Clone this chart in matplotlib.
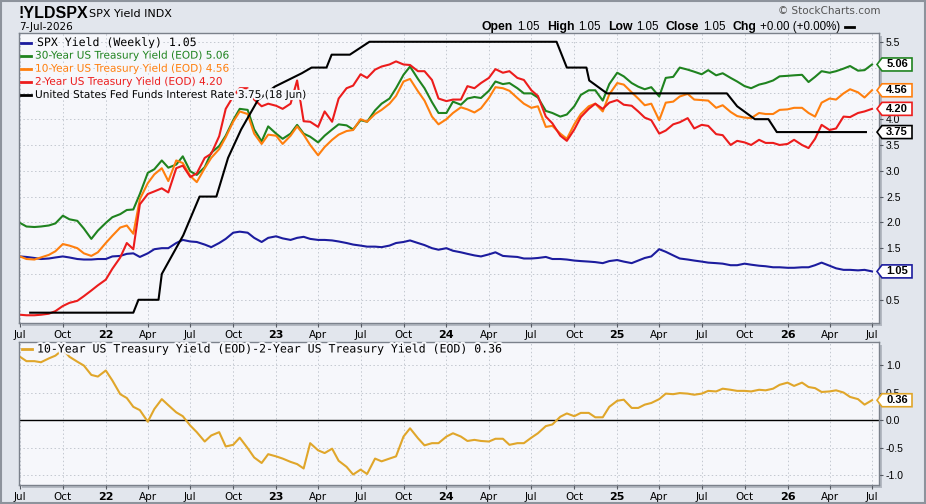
import matplotlib
matplotlib.use("Agg")
import matplotlib.pyplot as plt
import matplotlib.patheffects as pe
from matplotlib.patches import Polygon, Rectangle
from matplotlib.lines import Line2D
import pandas as pd

# ---------------- data ----------------
dates = pd.date_range("2021-07-01", periods=121, freq="SMS")

spx_yield = [1.34,1.33,1.31,1.29,1.30,1.32,1.34,1.32,1.29,1.28,
             1.28,1.29,1.29,1.34,1.35,1.39,1.40,1.33,1.40,1.48,
             1.50,1.50,1.60,1.66,1.63,1.62,1.57,1.52,1.60,1.68,
             1.80,1.82,1.80,1.70,1.62,1.70,1.73,1.69,1.66,1.70,
             1.72,1.68,1.66,1.66,1.65,1.63,1.60,1.57,1.55,1.53,
             1.53,1.52,1.55,1.60,1.62,1.65,1.60,1.56,1.50,1.47,
             1.50,1.45,1.42,1.39,1.36,1.34,1.38,1.42,1.35,1.34,
             1.33,1.30,1.30,1.31,1.33,1.29,1.29,1.28,1.26,1.25,
             1.24,1.23,1.21,1.25,1.27,1.24,1.21,1.26,1.31,1.34,
             1.48,1.43,1.36,1.30,1.28,1.26,1.24,1.22,1.21,1.20,
             1.17,1.17,1.20,1.18,1.16,1.15,1.13,1.13,1.12,1.12,
             1.13,1.13,1.17,1.22,1.16,1.11,1.08,1.08,1.07,1.08,
             1.05]

ust30 = [1.99,1.92,1.91,1.92,1.94,1.98,2.13,2.06,2.03,1.88,
         1.68,1.84,1.99,2.10,2.16,2.24,2.25,2.55,2.96,3.03,
         3.20,3.06,3.12,3.28,2.99,2.92,3.07,3.35,3.48,3.68,
         3.98,4.20,4.18,3.80,3.57,3.86,3.72,3.62,3.72,3.89,
         3.72,3.66,3.55,3.68,3.80,3.90,3.88,3.80,3.98,3.95,
         4.17,4.30,4.40,4.60,4.86,5.02,4.78,4.60,4.33,4.12,
         4.12,4.34,4.28,4.40,4.43,4.41,4.55,4.73,4.68,4.70,
         4.60,4.50,4.50,4.42,4.16,4.12,4.05,4.09,4.25,4.47,
         4.56,4.56,4.36,4.68,4.90,4.83,4.70,4.63,4.58,4.62,
         4.44,4.80,4.82,5.00,4.96,4.92,4.87,4.95,4.85,4.89,
         4.80,4.73,4.64,4.60,4.67,4.70,4.75,4.83,4.84,4.85,
         4.86,4.72,4.82,4.93,4.90,4.93,4.98,5.03,4.94,4.95,
         5.06]

ust10 = [1.34,1.29,1.28,1.32,1.37,1.44,1.58,1.55,1.50,1.40,
         1.35,1.42,1.60,1.74,1.90,1.94,1.78,2.45,2.76,2.93,
         3.05,2.80,3.20,3.15,2.90,2.78,3.05,3.25,3.42,3.65,
         3.95,4.15,4.10,3.72,3.52,3.70,3.68,3.52,3.68,3.86,
         3.70,3.50,3.30,3.46,3.60,3.70,3.77,3.79,4.00,3.95,
         4.10,4.18,4.30,4.45,4.73,4.78,4.54,4.36,4.05,3.90,
         4.00,4.12,4.23,4.19,4.13,4.21,4.41,4.62,4.60,4.55,
         4.41,4.30,4.22,4.25,3.85,3.87,3.72,3.62,3.90,4.10,
         4.25,4.30,4.15,4.48,4.70,4.67,4.52,4.40,4.27,4.30,
         3.98,4.32,4.34,4.44,4.49,4.38,4.37,4.36,4.22,4.27,
         4.14,4.06,4.03,4.02,4.12,4.10,4.10,4.18,4.19,4.22,
         4.22,4.12,4.05,4.32,4.40,4.38,4.50,4.58,4.52,4.42,
         4.56]

ust2 = [0.21,0.20,0.20,0.21,0.23,0.28,0.38,0.44,0.48,0.57,
        0.68,0.78,0.89,1.10,1.32,1.60,1.48,2.35,2.55,2.60,
        2.66,2.58,3.05,3.10,2.88,2.95,3.25,3.33,3.67,4.20,
        4.44,4.60,4.60,4.38,4.25,4.30,4.26,4.20,4.30,4.75,
        3.96,3.95,3.85,4.15,3.95,4.40,4.60,4.65,4.87,4.80,
        4.96,5.02,5.06,5.12,5.06,5.05,4.93,4.93,4.76,4.40,
        4.35,4.38,4.38,4.64,4.60,4.70,4.80,4.97,4.90,4.93,
        4.80,4.76,4.56,4.45,4.05,3.92,3.68,3.58,3.80,4.04,
        4.20,4.30,4.20,4.32,4.37,4.28,4.26,4.15,4.03,3.98,
        3.72,3.78,3.90,3.94,4.02,3.82,3.89,3.87,3.71,3.69,
        3.50,3.58,3.55,3.50,3.60,3.54,3.54,3.50,3.52,3.60,
        3.50,3.44,3.62,3.89,3.79,3.82,4.05,4.04,4.12,4.15,
        4.20]

spread_10_2 = [1.15,1.07,1.07,1.05,1.12,1.17,1.28,1.15,1.06,0.99,
               0.82,0.79,0.90,0.72,0.47,0.40,0.24,0.18,-0.03,0.20,
               0.38,0.27,0.14,0.07,-0.10,-0.22,-0.39,-0.28,-0.22,-0.48,
               -0.45,-0.32,-0.51,-0.68,-0.78,-0.62,-0.66,-0.70,-0.76,-0.80,
               -0.88,-0.42,-0.55,-0.60,-0.52,-0.74,-0.85,-0.99,-0.90,-0.98,
               -0.70,-0.75,-0.70,-0.66,-0.30,-0.15,-0.33,-0.46,-0.42,-0.42,
               -0.30,-0.24,-0.30,-0.38,-0.36,-0.38,-0.39,-0.34,-0.34,-0.45,
               -0.42,-0.42,-0.32,-0.24,-0.11,-0.08,0.06,0.12,0.07,0.13,
               0.13,0.05,0.05,0.24,0.35,0.37,0.22,0.22,0.28,0.31,
               0.38,0.48,0.47,0.49,0.48,0.46,0.48,0.53,0.52,0.57,
               0.55,0.53,0.53,0.52,0.55,0.54,0.57,0.64,0.68,0.62,
               0.68,0.60,0.58,0.51,0.52,0.54,0.50,0.42,0.38,0.28,
               0.36]

fed_dates = ["2021-07-23","2022-03-01","2022-03-12","2022-04-24","2022-05-01",
             "2022-06-16","2022-07-21","2022-08-26","2022-09-20","2022-10-18",
             "2022-11-23","2022-12-29","2023-02-25","2023-03-18","2023-04-19",
             "2023-04-30","2023-06-08","2023-07-20","2024-08-24","2024-09-15",
             "2024-10-27","2024-11-02","2024-12-10","2025-08-24","2025-09-15",
             "2025-10-23","2025-11-21","2025-12-09","2026-06-18"]
fed_rate = [0.25,0.25,0.50,0.50,1.00,1.75,2.50,2.50,3.25,3.80,
            4.37,4.63,4.89,5.00,5.00,5.25,5.25,5.50,5.50,5.00,
            5.00,4.75,4.50,4.50,4.25,4.00,4.00,3.75,3.75]

tick_dates = pd.date_range("2021-07-01", "2026-07-01", freq="QS-JAN")
tick_labels = ["Jul","Oct","22","Apr","Jul","Oct","23","Apr","Jul","Oct","24",
               "Apr","Jul","Oct","25","Apr","Jul","Oct","26","Apr","Jul"]
main_yticks = [0.5,1.0,1.5,2.0,2.5,3.0,3.5,4.0,4.5,5.0,5.5]
main_hidden = [1.0, 4.5, 5.0]          # labels covered by the value tags
low_yticks = [-1.0,-0.5,0.0,0.5,1.0]

legend_main = ["SPX Yield (Weekly) 1.05",
               "30-Year US Treasury Yield (EOD) 5.06",
               "10-Year US Treasury Yield (EOD) 4.56",
               "2-Year US Treasury Yield (EOD) 4.20",
               "United States Fed Funds Interest Rate 3.75 (18 Jun)"]
legend_low = "10-Year US Treasury Yield (EOD)-2-Year US Treasury Yield (EOD) 0.36"

# ---------------- style ----------------
C_BLUE, C_GREEN, C_ORANGE, C_RED, C_BLACK = "#1c1c9e", "#1f831f", "#ff7f0e", "#ec1c1c", "#000000"
C_GOLD = "#e0a62a"
BG = "#e2e6ed"
PANEL = "#f6f7fb"
W, H = 926, 504

fig = plt.figure(figsize=(W / 100, H / 100), dpi=100)
fig.patch.set_facecolor(BG)

def fx(px):
    return px / W

def fy(py):
    return 1 - py / H

L, R = 19, 879
main_top, main_bot = 33, 323
low_top, low_bot = 342, 485

# shadows
for top, bot in ((main_top, main_bot), (low_top, low_bot)):
    fig.add_artist(Rectangle((fx(L + 3), fy(bot + 3)), fx(R - L), (bot - top) / H,
                             transform=fig.transFigure, facecolor="#b4b9c2",
                             edgecolor="none", zorder=-1))

ax = fig.add_axes([fx(L), fy(main_bot), fx(R - L), (main_bot - main_top) / H])
ax2 = fig.add_axes([fx(L), fy(low_bot), fx(R - L), (low_bot - low_top) / H])

xmin, xmax = pd.Timestamp("2021-06-29"), pd.Timestamp("2026-07-16")

for a in (ax, ax2):
    a.set_facecolor(PANEL)
    for s in a.spines.values():
        s.set_color("#7b818b")
        s.set_linewidth(1.0)
    a.yaxis.tick_right()
    a.set_xlim(xmin, xmax)
    a.set_xticks(tick_dates)
    a.set_xticklabels(tick_labels)
    a.tick_params(axis="both", direction="out", length=3, width=0.8,
                  color="#555a62", labelsize=7.5, pad=2)
    for lab in a.get_xticklabels():
        lab.set_family("DejaVu Sans")
        if lab.get_text().isdigit():
            lab.set_fontweight("bold")
            lab.set_fontsize(8)
    a.grid(True, color="#c3c8d0", linestyle=(0, (1.5, 2.5)), linewidth=0.7)
    a.set_axisbelow(True)

ax.set_ylim(0.05, 5.67)
ax.set_yticks(main_yticks)
ax.set_yticklabels(["" if v in main_hidden else f"{v:.1f}" for v in main_yticks])
for lab in ax.get_yticklabels():
    lab.set_family("Liberation Sans")
ax2.set_ylim(-1.18, 1.418)
ax2.set_yticks(low_yticks)
ax2.set_yticklabels([f"{v:.1f}" for v in low_yticks])
for lab in ax2.get_yticklabels():
    lab.set_family("Liberation Sans")

lw = 1.5
ax.plot(dates, spx_yield, color=C_BLUE, lw=lw)
ax.plot(dates, ust30, color=C_GREEN, lw=lw)
ax.plot(dates, ust10, color=C_ORANGE, lw=lw)
ax.plot(dates, ust2, color=C_RED, lw=lw)
ax.plot(pd.to_datetime(fed_dates), fed_rate, color=C_BLACK, lw=lw)

ax2.axhline(0, color="black", lw=1.0)
ax2.plot(dates, spread_10_2, color=C_GOLD, lw=lw)

# ---------------- legends ----------------
halo = [pe.withStroke(linewidth=3, foreground=PANEL)]
leg_cols = [C_BLUE, C_GREEN, C_ORANGE, C_RED, C_BLACK]
txt_cols = ["black", C_GREEN, C_ORANGE, C_RED, "black"]
for i, (lbl, lc, tc) in enumerate(zip(legend_main, leg_cols, txt_cols)):
    y = 42.5 + i * 13.1
    fig.add_artist(Line2D([fx(21), fx(31)], [fy(y), fy(y)], color=lc, lw=2,
                          transform=fig.transFigure, zorder=4))
    if i == 0:
        fig.text(fx(37), fy(y), lbl, color=tc, fontsize=8.3, family="DejaVu Sans Mono",
                 va="center", ha="left", path_effects=halo, zorder=4)
    else:
        fig.text(fx(35), fy(y), lbl, color=tc, fontsize=7.6, family="DejaVu Sans",
                 va="center", ha="left", path_effects=halo, zorder=4)
fig.add_artist(Line2D([fx(22), fx(32)], [fy(349), fy(349)], color=C_GOLD, lw=2,
                      transform=fig.transFigure, zorder=4))
fig.text(fx(37), fy(349), legend_low, color="black", fontsize=8.3, family="DejaVu Sans Mono",
         va="center", ha="left", path_effects=halo, zorder=4)

# ---------------- value tags ----------------
def tag(a, value, color):
    ydisp = a.transData.transform((a.get_xlim()[0], value))[1]
    ypx = H - ydisp
    pts = [(877, ypx), (882, ypx - 6.5), (912, ypx - 6.5), (912, ypx + 6.5), (882, ypx + 6.5)]
    fig.add_artist(Polygon([(fx(px), fy(py)) for px, py in pts], closed=True,
                           transform=fig.transFigure, facecolor="white",
                           edgecolor=color, lw=1.2, zorder=10))
    fig.text(fx(897), fy(ypx), f"{value:.2f}", fontsize=8, weight="bold",
             family="Liberation Sans", ha="center", va="center", zorder=11)

tag(ax, ust30[-1], C_GREEN)
tag(ax, ust10[-1], C_ORANGE)
tag(ax, ust2[-1], C_RED)
tag(ax, fed_rate[-1], C_BLACK)
tag(ax, spx_yield[-1], C_BLUE)
tag(ax2, spread_10_2[-1], C_GOLD)

# ---------------- header ----------------
fig.text(fx(18), fy(17.5), "!YLDSPX", fontsize=11.5, weight="bold",
         family="Liberation Sans", va="baseline")
fig.text(fx(89), fy(17), "SPX Yield INDX", fontsize=8, family="DejaVu Sans", va="baseline")
fig.text(fx(19), fy(30), "7-Jul-2026", fontsize=7.5, family="DejaVu Sans", va="baseline")
fig.text(fx(880), fy(14), "\u00a9 StockCharts.com", fontsize=7.5, family="DejaVu Sans",
         color="#555555", ha="right", va="baseline")

renderer = fig.canvas.get_renderer()
pieces = [("Open", True, 4), ("1.05", False, 7), ("High", True, 4), ("1.05", False, 7),
          ("Low", True, 4), ("1.05", False, 7), ("Close", True, 4), ("1.05", False, 7),
          ("Chg", True, 4), ("+0.00 (+0.00%)", False, 3)]
xcur = 482
for txt, bold, gap in pieces:
    t = fig.text(fx(xcur), fy(30), txt, fontsize=8.8 if bold else 8.3,
                 weight="bold" if bold else "normal",
                 family="Liberation Sans", va="baseline")
    xcur += t.get_window_extent(renderer).width + gap
fig.add_artist(Line2D([fx(xcur + 1), fx(xcur + 10)], [fy(26.5), fy(26.5)], color="black",
                      lw=2, transform=fig.transFigure))

# outer border
fig.add_artist(Rectangle((0.001, 0.001), 0.998, 0.998, transform=fig.transFigure,
                         facecolor="none", edgecolor="#8d939c", lw=1.5, zorder=20))

fig.savefig("out.png", dpi=100, facecolor=fig.get_facecolor())
